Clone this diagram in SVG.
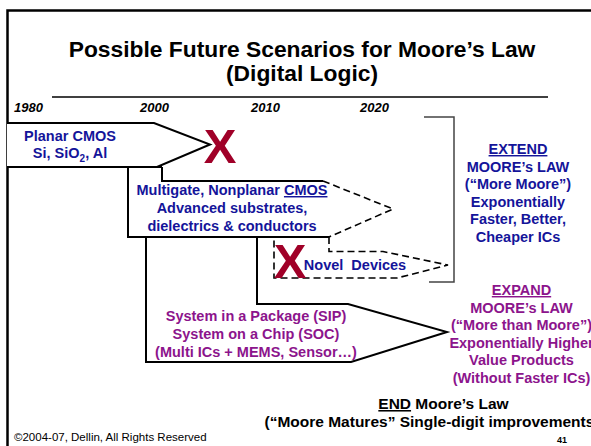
<svg xmlns="http://www.w3.org/2000/svg" width="591" height="446" viewBox="0 0 591 446">
  <style>
    text { font-family: "Liberation Sans", Arial, sans-serif; font-weight: bold; }
    .title { font-size: 22.8px; fill: #000; text-anchor: middle; }
    .year { font-size: 13px; font-style: italic; fill: #000; }
    .blue { font-size: 14.5px; fill: #14149a; text-anchor: middle; }
    .purple { font-size: 14.5px; fill: #8c148c; text-anchor: middle; }
    .black { font-size: 15.5px; fill: #000; text-anchor: middle; }
    .ul { text-decoration: underline; }
    .solid { fill: none; stroke: #000; stroke-width: 2; stroke-linejoin: miter; }
    .dash { fill: none; stroke: #000; stroke-width: 1.6; stroke-dasharray: 7 4; }
    .bg { fill: #fff; stroke: none; }
    .x { font-size: 49px; fill: #a00028; text-anchor: middle; }
    .small { font-size: 11.5px; font-weight: normal; fill: #000; }
  </style>

  <rect width="591" height="446" fill="#fff"/>

  <!-- slide frame -->
  <g id="frame" fill="none" stroke="#000" stroke-width="2.5">
    <path d="M7.5,446 V10.5 H591"/>
  </g>

  <!-- heading -->
  <g id="title">
    <text class="title" x="302" y="56.5">Possible Future Scenarios for Moore’s Law</text>
    <text class="title" x="302" y="80.5">(Digital Logic)</text>
    <line x1="52" y1="97" x2="548" y2="97" stroke="#000" stroke-width="1.5"/>
  </g>

  <!-- timeline years -->
  <g id="years">
    <text class="year" x="14" y="112">1980</text>
    <text class="year" x="140" y="112">2000</text>
    <text class="year" x="251" y="112">2010</text>
    <text class="year" x="360" y="112">2020</text>
  </g>

  <!-- System in a Package / System on a Chip arrow -->
  <g id="sip">
    <path class="bg" d="M146,237 H257 V304 H348 L447,332 L351,362 H146 Z"/>
    <path class="solid" d="M146,237 V362 H351 L447,332 L348,304 H257 V237"/>
    <text class="purple" x="256" y="320.5">System in a Package (SIP)</text>
    <text class="purple" x="256" y="339">System on a Chip (SOC)</text>
    <text class="purple" x="256" y="357">(Multi ICs + MEMS, Sensor…)</text>
  </g>

  <!-- Novel devices arrow (dashed) -->
  <g id="novel">
    <path class="bg" d="M274,237 V278 H397 L448,265 L397,251.5 H329 V237 Z"/>
    <path class="dash" d="M329,237 V251.5 H383 L448,265 L397,278 H274 V240"/>
    <text class="blue" x="355" y="269.5" xml:space="preserve">Novel  Devices</text>
    <text class="x" x="290" y="278">X</text>
  </g>

  <!-- Multigate / nonplanar CMOS arrow -->
  <g id="multigate">
    <path class="bg" d="M128,167 H162 V181 H323 L393,209 L329,237 H128 Z"/>
    <path class="solid" d="M162,167 V181 H323 M329,237 H128 V167 H162"/>
    <path class="dash" d="M323,181 L393,209 L329,237"/>
    <text class="blue" x="232" y="195">Multigate, Nonplanar <tspan class="ul">CMOS</tspan></text>
    <text class="blue" x="232" y="213">Advanced substrates,</text>
    <text class="blue" x="232" y="230.5">dielectrics &amp; conductors</text>
  </g>

  <!-- Planar CMOS arrow -->
  <g id="planar">
    <path class="bg" d="M7,123 H154 L210,144.5 L157,167 H7 Z"/>
    <path class="solid" d="M7,123 H154 L210,144.5 L157,167 H7"/>
    <text class="blue" x="70" y="141">Planar CMOS</text>
    <text class="blue" x="70" y="158">Si, SiO<tspan font-size="10" dy="4">2</tspan><tspan dy="-4">, Al</tspan></text>
    <text class="x" x="220" y="163">X</text>
  </g>

  <!-- connectors: bracket grouping the upper scenarios -->
  <g id="connectors">
    <path d="M424,117 H454 V282 H429" fill="none" stroke="#444" stroke-width="1.5"/>
  </g>

  <!-- EXTEND label -->
  <g id="extend">
    <text class="blue" x="518" y="154" font-size="15.5"><tspan class="ul">EXTEND</tspan></text>
    <text class="blue" x="518" y="171.5">MOORE’s LAW</text>
    <text class="blue" x="518" y="189">(“More Moore”)</text>
    <text class="blue" x="518" y="206.5">Exponentially</text>
    <text class="blue" x="518" y="224">Faster, Better,</text>
    <text class="blue" x="518" y="241.5">Cheaper ICs</text>
  </g>

  <!-- EXPAND label -->
  <g id="expand">
    <text class="purple" x="521.5" y="295" font-size="15.5"><tspan class="ul">EXPAND</tspan></text>
    <text class="purple" x="521.5" y="312.5">MOORE’s LAW</text>
    <text class="purple" x="521.5" y="330">(“More than Moore”)</text>
    <text class="purple" x="521.5" y="347.5">Exponentially Higher</text>
    <text class="purple" x="521.5" y="365">Value Products</text>
    <text class="purple" x="521.5" y="382.5">(Without Faster ICs)</text>
  </g>

  <!-- END label -->
  <g id="end">
    <text class="black" x="443.5" y="409"><tspan class="ul">END</tspan> Moore’s Law</text>
    <text class="black" x="432" y="427" font-size="15">(“Moore Matures” Single-digit improvements)</text>
  </g>

  <!-- footer -->
  <g id="footer">
    <text class="small" x="14" y="441">©2004-07, Dellin, All Rights Reserved</text>
    <text x="562" y="442.5" font-size="9" text-anchor="middle" fill="#000">41</text>
  </g>
</svg>
